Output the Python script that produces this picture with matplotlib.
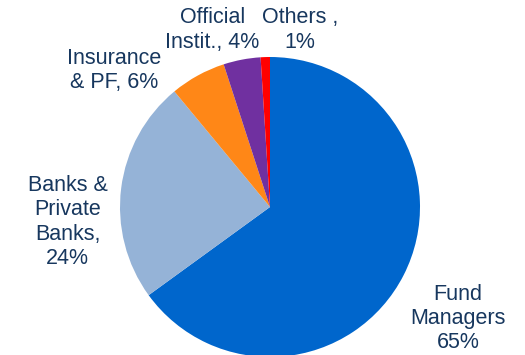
import matplotlib.pyplot as plt

plt.rcParams['font.family'] = ['Liberation Sans', 'DejaVu Sans']

labels = ['Fund\nManagers\n65%', 'Banks &\nPrivate\nBanks,\n24%', 'Insurance\n& PF, 6%',
          'Official\nInstit., 4%', 'Others ,\n1%']
shares = [65, 24, 6, 4, 1]
colors = ['#0066CC', '#95B3D7', '#FF8717', '#7030A0', '#FF0000']
# label anchor points (in units of pie radius)
label_pos = [(1.255, -0.745), (-1.35, -0.10), (-1.04, 0.91), (-0.385, 1.18), (0.20, 1.18)]

fig = plt.figure(figsize=(5.25, 3.55), dpi=100)
ax = fig.add_axes([120/525, -2/355, 300/525, 300/355])
ax.pie(shares, colors=colors, startangle=90, counterclock=False,
       wedgeprops=dict(linewidth=0))
ax.set_xlim(-1, 1)
ax.set_ylim(-1, 1)
ax.set_aspect('equal')
ax.axis('off')

for lab, (x, y) in zip(labels, label_pos):
    ax.text(x, y, lab, ha='center', va='center', fontsize=15.5, color='#17375E',
            linespacing=1.2, clip_on=False)

fig.savefig('out.png', dpi=100)
